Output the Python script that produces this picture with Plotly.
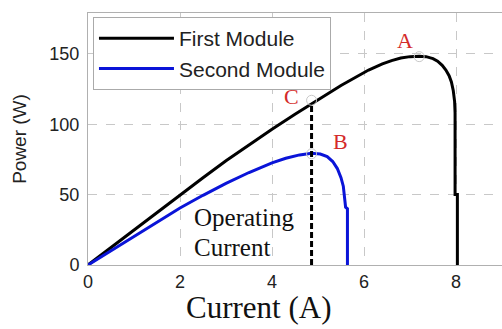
import plotly.graph_objects as go

# First module P-I curve
first_current = [0, 0.5, 1, 1.5, 2, 2.5, 3, 3.5, 4, 4.5, 5, 5.5, 5.8, 6.1, 6.4, 6.6, 6.8, 7.0, 7.2, 7.35,
                 7.5, 7.6, 7.7, 7.78, 7.85, 7.9, 7.94, 7.97, 7.98, 7.98, 8.03, 8.03]
first_power = [0, 12.5, 25, 37.5, 50, 62, 74, 85.5, 96.5, 107, 117.5, 127.5, 133, 138.5, 142.8, 145.2, 147, 148, 148.3, 148,
               146.6, 144.8, 141.8, 138.5, 134.5, 130, 124, 116, 108, 50, 50, 0]

# Second module P-I curve
second_current = [0, 0.5, 1, 1.5, 2, 2.5, 3, 3.5, 4, 4.3, 4.6, 4.86, 5.05, 5.2, 5.32, 5.42, 5.5, 5.55, 5.59, 5.6, 5.64, 5.64]
second_power = [0, 10, 20, 30.5, 40.5, 49.5, 58, 65.7, 72.6, 75.8, 78.2, 79.3, 78.8, 77, 73.5, 68.5, 62, 56, 45, 41, 40, 0]

# Operating current line
operating_current = 4.86
operating_power_top = 113

# Marked points A, C, B
point_labels = ["A", "C", "B"]
point_current = [7.2, 4.86, 4.86]
point_power = [148, 117, 79]

x_ticks = [0, 2, 4, 6, 8]
y_ticks = [0, 50, 100, 150]

fig = go.Figure()
fig.add_trace(go.Scatter(x=first_current, y=first_power, mode="lines",
                         line=dict(color="black", width=3), name="First Module"))
fig.add_trace(go.Scatter(x=second_current, y=second_power, mode="lines",
                         line=dict(color="#0a14d8", width=3), name="Second Module"))
fig.add_trace(go.Scatter(x=[operating_current, operating_current], y=[0, operating_power_top],
                         mode="lines", line=dict(color="black", width=3, dash="6px,3px"),
                         showlegend=False))
fig.add_trace(go.Scatter(x=point_current, y=point_power, mode="markers",
                         marker=dict(symbol="circle-open", size=10, color="#c8c8c8", line=dict(width=1)),
                         showlegend=False))

label_offsets = {"A": (-14, -16), "C": (-20, -4), "B": (29, -12)}
for lab, xc, yc in zip(point_labels, point_current, point_power):
    ox, oy = label_offsets[lab]
    fig.add_annotation(x=xc, y=yc, text=lab, showarrow=False, xshift=ox, yshift=-oy,
                       font=dict(family="Liberation Serif", size=22, color="#d42a2a"))

fig.add_annotation(x=2.26, y=33.4, xanchor="left", yanchor="middle", text="Operating",
                   showarrow=False,
                   font=dict(family="Liberation Serif", size=25, color="#111"))
fig.add_annotation(x=2.26, y=12.1, xanchor="left", yanchor="middle", text="Current",
                   showarrow=False,
                   font=dict(family="Liberation Serif", size=25, color="#111"))

# x axis title placed where the reference has it
fig.add_annotation(xref="paper", yref="paper", x=0.413, y=-0.17, xanchor="center", yanchor="middle",
                   text="Current (A)", showarrow=False,
                   font=dict(family="Liberation Serif", size=31, color="#111"))

fig.update_layout(
    width=502, height=329,
    margin=dict(l=88, r=0, t=13, b=64),
    plot_bgcolor="white", paper_bgcolor="white",
    font=dict(family="Liberation Sans", color="#222"),
    legend=dict(x=0.012, y=0.984, xanchor="left", yanchor="top",
                bgcolor="white", bordercolor="#aaaaaa", borderwidth=1,
                font=dict(family="Liberation Sans", size=21, color="#222"),
                itemwidth=75, tracegroupgap=0),
    showlegend=True,
)
fig.update_xaxes(range=[0, 9], tickvals=x_ticks, showgrid=True, gridcolor="#c8c8c8",
                 griddash="dash", gridwidth=1, showline=True, linecolor="#b0b0b0",
                 mirror=True, ticks="", zeroline=False,
                 tickfont=dict(size=18, color="#222"))
fig.update_yaxes(range=[0, 179], tickvals=y_ticks, showgrid=True, gridcolor="#c8c8c8",
                 griddash="dash", gridwidth=1, showline=True, linecolor="#b0b0b0",
                 ticks="", zeroline=False, ticklabelstandoff=4,
                 tickfont=dict(size=18, color="#222"),
                 title=dict(text="Power (W)", standoff=17,
                            font=dict(family="Liberation Sans", size=19, color="#222")))

fig.write_html("out.html")
